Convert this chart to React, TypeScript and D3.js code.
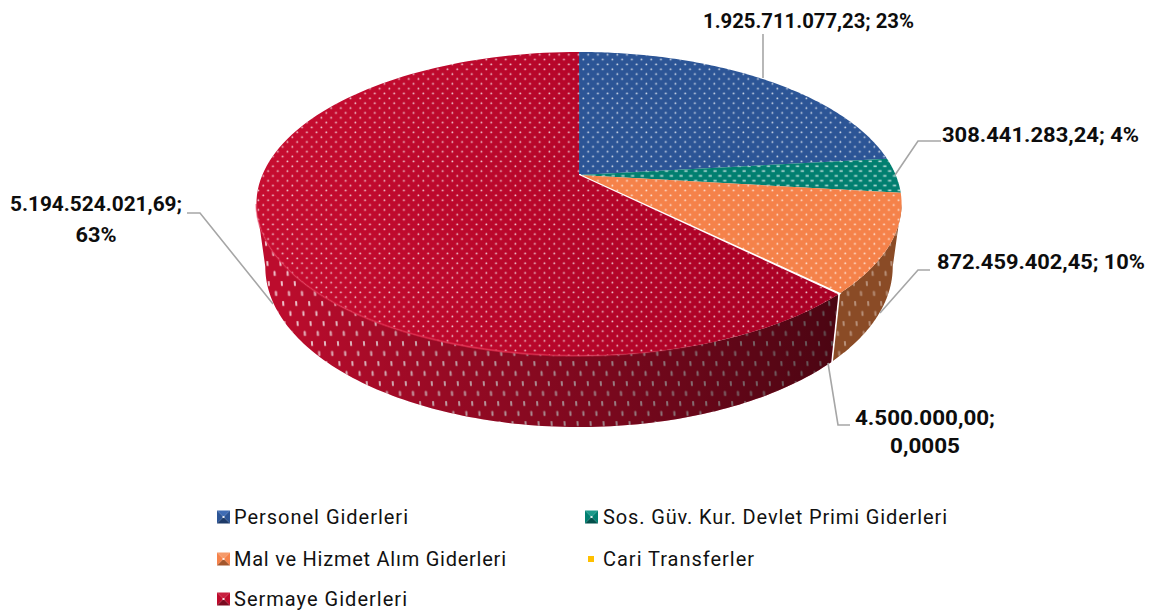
import React from "react";
import * as d3 from "d3";

const categories = ["Personel Giderleri", "Sos. Güv. Kur. Devlet Primi Giderleri", "Mal ve Hizmet Alım Giderleri", "Cari Transferler", "Sermaye Giderleri"];
const values = [1925711077.23, 308441283.24, 872459402.45, 4500000, 5194524021.69];
const topColors = ["#2c5596", "#017f70", "#f5824a", "#ffc000", "#bd0a2c"];
const sideColors = ["#1d3a68", "#01594e", "#8a4b26", "#b38600", "#bc0c2d"];
const swatchLight = ["#3f6cb4", "#1a9a8a", "#f59a6a", "#ffc000", "#c8203f"];
const swatchDark = ["#1d3a68", "#01504a", "#a3562c", "#ffc000", "#7a0a20"];
const sideDotOpacity = [0.7, 0.7, 0.38, 0.7, 0.75];
const valueLabels = [["1.925.711.077,23; 23%"], ["308.441.283,24; 4%"], ["872.459.402,45; 10%"], ["4.500.000,00;", "0,0005"], ["5.194.524.021,69;", "63%"]];

// layout
const W = 1150, H = 614;
const apex = { x: 579, y: 175 };
const persp = 0.19;
const topPlane = { ax: 316.7, by: 146.4, dy: 0 };
const botPlane = { ax: 308, by: 154.4, dy: 61.4 };
const labelLayout = [
  { cx: 808.5, y: [21], w: [211] },
  { cx: 1040.5, y: [135], w: [197] },
  { cx: 1041, y: [262], w: [208] },
  { cx: 925, y: [418, 446], w: [140, 70] },
  { cx: 96, y: [204, 235], w: [172, 41] },
];
const leaders = [
  [[763, 34], [763, 78]],
  [[941, 141], [918, 141], [895, 175]],
  [[930, 270], [918, 270], [880, 313]],
  [[850, 425], [838, 425], [828, 363]],
  [[187, 213], [200, 213], [273, 304]],
];
const legendLayout = [
  { x: 234, y: 517, sw: 13, sx: 217, w: 174 },
  { x: 603, y: 517, sw: 13, sx: 585, w: 344 },
  { x: 234, y: 559, sw: 13, sx: 217, w: 272 },
  { x: 603, y: 559, sw: 6, sx: 588, w: 151 },
  { x: 234, y: 599, sw: 13, sx: 217, w: 173 },
];

type Plane = typeof topPlane;
const project = (a: number, p: Plane): [number, number] => {
  const u = Math.sin(a), v = Math.cos(a), d = 1 + persp * v;
  return [apex.x + (p.ax * u) / d, apex.y + p.dy - (p.by * v) / d];
};
const sweep = (a0: number, a1: number, p: Plane) =>
  d3.range(0, 121).map((i) => project(a0 + ((a1 - a0) * i) / 120, p));

const line = d3.line();
const arcs = d3.pie<number>().sort(null)(values);

// The side wall only shows between the two tangents of the rim.
const frontStart = Math.acos(-persp);
const frontEnd = 2 * Math.PI - frontStart;

const topPath = (a0: number, a1: number) =>
  (line([[apex.x, apex.y], ...sweep(a0, a1, topPlane)]) as string) + "Z";
const sidePath = (a0: number, a1: number) => {
  const s = Math.max(a0, frontStart), e = Math.min(a1, frontEnd);
  if (e <= s) return null;
  return (line([...sweep(s, e, topPlane), ...sweep(s, e, botPlane).reverse()]) as string) + "Z";
};

const FONT = "Roboto, sans-serif";

function Swatch({ x, y, s, i, plain }: { x: number; y: number; s: number; i: number; plain: boolean }) {
  if (plain) return <rect x={x} y={y - s / 2} width={s} height={s} fill={topColors[i]} />;
  const c = s / 2, mx = x + c, my = y, t = y - c, b = y + c, l = x, r = x + s;
  return (
    <g>
      <path d={`M${l} ${t}L${r} ${t}L${mx} ${my}Z`} fill={swatchLight[i]} />
      <path d={`M${l} ${t}L${l} ${b}L${mx} ${my}Z`} fill={topColors[i]} />
      <path d={`M${r} ${t}L${r} ${b}L${mx} ${my}Z`} fill={topColors[i]} />
      <path d={`M${l} ${b}L${r} ${b}L${mx} ${my}Z`} fill={swatchDark[i]} />
      <rect x={mx - 1} y={my - 1} width={2} height={2} fill="#fff" opacity={0.85} />
    </g>
  );
}

export default function App() {
  return (
    <svg width={W} height={H} viewBox={`0 0 ${W} ${H}`} style={{ position: "absolute", left: 0, top: 0, background: "#fff" }}>
      <defs>
        <pattern id="dotsTop" width={9.7} height={9.7} patternUnits="userSpaceOnUse">
          <rect x={0.5} y={0.5} width={1.7} height={1.7} rx={0.5} fill="#fff" opacity={0.78} />
          <rect x={5.35} y={5.35} width={1.7} height={1.7} rx={0.5} fill="#fff" opacity={0.78} />
        </pattern>
        <pattern id="dotsWide" width={9.7} height={9.7} patternUnits="userSpaceOnUse">
          <rect x={0.5} y={0.5} width={3.2} height={1.6} fill="#fff" opacity={0.72} />
          <rect x={5.35} y={5.35} width={3.2} height={1.6} fill="#fff" opacity={0.72} />
        </pattern>
        <pattern id="dotsSide" width={13} height={20} patternUnits="userSpaceOnUse" patternTransform="skewX(4)">
          <rect x={1} y={1} width={2} height={5} rx={0.8} fill="#fff" />
          <rect x={7.5} y={11} width={2} height={5} rx={0.8} fill="#fff" />
        </pattern>
        <linearGradient id="sideShade" gradientUnits="userSpaceOnUse" x1={280} y1={0} x2={835} y2={0}>
          <stop offset="0" stopColor="#000" stopOpacity={0} />
          <stop offset="0.3" stopColor="#000" stopOpacity={0.2} />
          <stop offset="0.6" stopColor="#000" stopOpacity={0.36} />
          <stop offset="1" stopColor="#000" stopOpacity={0.6} />
        </linearGradient>
        <linearGradient id="topRed" gradientUnits="userSpaceOnUse" x1={260} y1={0} x2={830} y2={0}>
          <stop offset="0" stopColor="#c60d30" />
          <stop offset="1" stopColor="#a90025" />
        </linearGradient>
        <linearGradient id="rimGlow" gradientUnits="userSpaceOnUse" x1={270} y1={0} x2={720} y2={0}>
          <stop offset="0" stopColor="#e02a4c" stopOpacity={0.5} />
          <stop offset="0.5" stopColor="#e02a4c" stopOpacity={0.8} />
          <stop offset="1" stopColor="#e02a4c" stopOpacity={0} />
        </linearGradient>
      </defs>

      {arcs.map((a, i) => {
        const tiny = i === 3;
        const d = sidePath(a.startAngle, a.endAngle);
        if (!d) return null;
        return (
          <g key={"side" + i}>
            <path d={d} fill={tiny ? "#fff" : sideColors[i]} stroke={tiny ? "#fff" : "none"} strokeWidth={tiny ? 2 : 0} />
            {!tiny && <path d={d} fill="url(#dotsSide)" opacity={sideDotOpacity[i]} />}
            {i === 4 && <path d={d} fill="url(#sideShade)" />}
          </g>
        );
      })}

      {arcs.map((a, i) => {
        const d = topPath(a.startAngle, a.endAngle);
        const tiny = i === 3;
        const fill = i === 4 ? "url(#topRed)" : topColors[i];
        return (
          <g key={"top" + i}>
            <path d={d} fill={tiny ? "#fff" : fill} stroke={tiny ? "#fff" : "none"} strokeWidth={tiny ? 2.4 : 0} />
            {!tiny && <path d={d} fill={i === 1 ? "url(#dotsWide)" : "url(#dotsTop)"} />}
          </g>
        );
      })}

      <path d={line(sweep(arcs[4].startAngle + 0.02, frontEnd, topPlane)) as string} fill="none" stroke="url(#rimGlow)" strokeWidth={2} />

      {leaders.map((pts, i) => (
        <path key={"lead" + i} d={line(pts as [number, number][]) as string} fill="none" stroke="#a6a6a6" strokeWidth={1.6} />
      ))}

      {valueLabels.map((rows, i) =>
        rows.map((t, j) => (
          <text key={`lab${i}-${j}`} x={labelLayout[i].cx} y={labelLayout[i].y[j]} textAnchor="middle" dominantBaseline="central"
            textLength={labelLayout[i].w[j]} lengthAdjust="spacingAndGlyphs"
            fontFamily={FONT} fontWeight={700} fontSize={21} fill="#0d0d0d">{t}</text>
        ))
      )}

      {categories.map((c, i) => {
        const l = legendLayout[i];
        return (
          <g key={"leg" + i}>
            <Swatch x={l.sx} y={l.y} s={l.sw} i={i} plain={i === 3} />
            <text x={l.x} y={l.y} dominantBaseline="central" textLength={l.w} lengthAdjust="spacing"
              fontFamily={FONT} fontSize={20} fill="#111">{c}</text>
          </g>
        );
      })}
    </svg>
  );
}
